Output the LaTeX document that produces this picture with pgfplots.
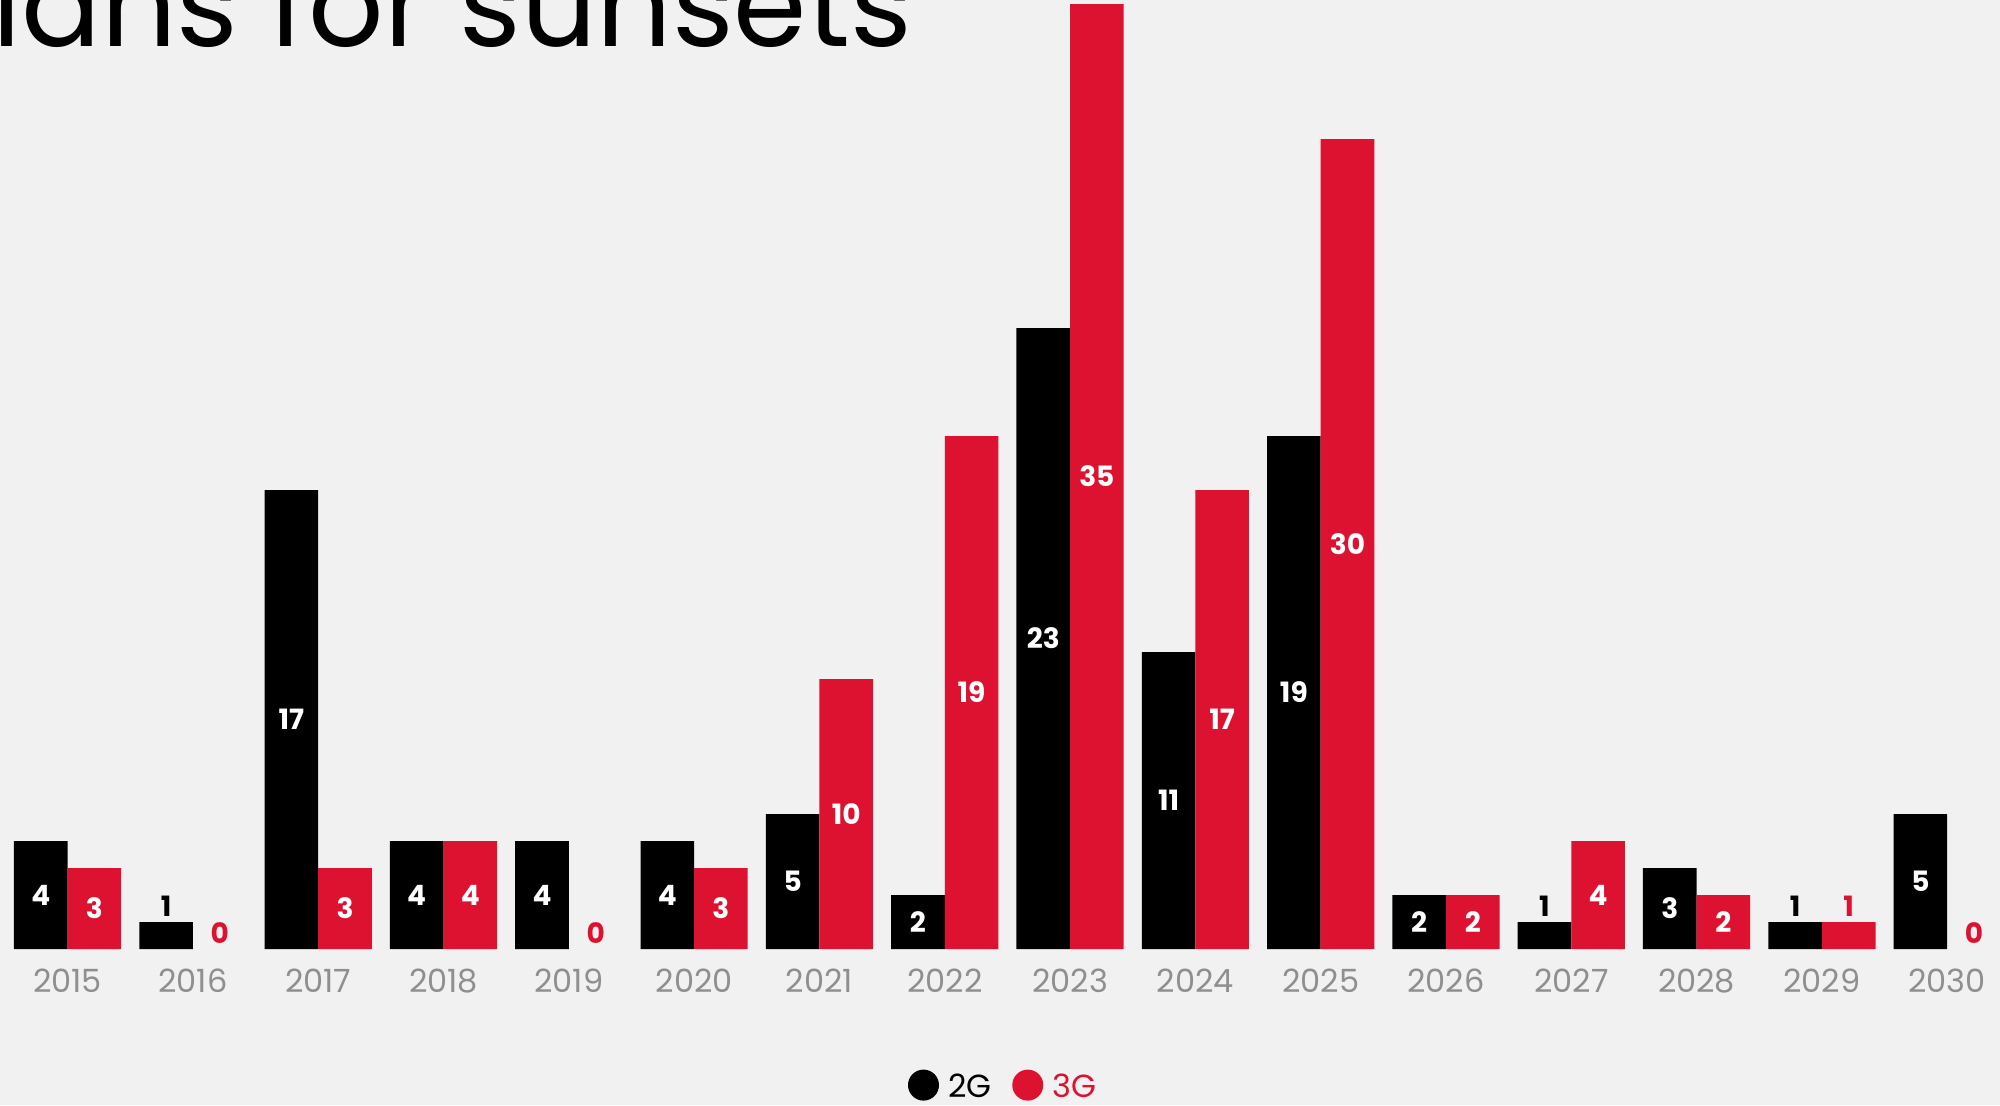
\documentclass[border=0pt]{standalone}
\usepackage{fontspec}
\setmainfont{Poppins}
\usepackage{pgfplots}
\usepackage{pgfplotstable}
\pgfplotsset{compat=1.18}
\definecolor{rg}{HTML}{DC1230}
\definecolor{bg}{HTML}{F1F1F1}
\definecolor{tickgray}{HTML}{8F8F8F}
\pgfplotstableread{
x g2 g3
0 4 3
1 1 0
2 17 3
3 4 4
4 4 0
5 4 3
6 5 10
7 2 19
8 23 35
9 11 17
10 19 30
11 2 2
12 1 4
13 3 2
14 1 1
15 5 0
}\datatable
\begin{document}
\begin{tikzpicture}
\fill[bg] (0,-78pt) rectangle (1000pt,474.5pt);
\begin{axis}[
  at={(0,0)}, anchor=south west,
  scale only axis, width=1000pt, height=474.5pt,
  xmin=-0.5395, xmax=15.4217, ymin=0, ymax=35.15,
  /pgf/number format/assume math mode=true,
  axis line style={draw=none},
  major tick length=0pt,
  ytick=\empty,
  xtick={0,...,15},
  xticklabels={2015,2016,2017,2018,2019,2020,2021,2022,2023,2024,2025,2026,2027,2028,2029,2030},
  xticklabel style={anchor=center, yshift=-16pt, text=tickgray, font=\fontsize{16}{16}\selectfont},
  clip=false,
  legend style={at={(0.502,-0.1454)}, anchor=center, draw=none, fill=none,
    legend columns=2, font=\fontsize{16}{16}\selectfont,
    /tikz/every odd column/.append style={column sep=2.5pt},
    /tikz/every even column/.append style={column sep=8.5pt}},
  legend image code/.code={\fill[#1] (0pt,0.35em-2.5pt) circle (7.75pt);},
]
\addplot[ybar, bar width=0.4278, bar shift=-0.2139, fill=black, draw=none] table[x=x, y expr={\thisrow{g2}>0 ? \thisrow{g2} : nan}] \datatable;
\addlegendentry{2G}
\addplot[ybar, bar width=0.4278, bar shift=0.2139, fill=rg, draw=none] table[x=x, y expr={\thisrow{g3}>0 ? \thisrow{g3} : nan}] \datatable;
\addlegendentry{\textcolor{rg}{3G}}
% labels inside bars
\addplot[forget plot, draw=none, mark=none, nodes near coords, point meta=explicit,
  every node near coord/.style={anchor=center, inner sep=0pt, text=white, font=\bfseries\fontsize{14}{14}\selectfont}]
  table[x expr=\thisrow{x}-0.2139, y expr={\thisrow{g2}>1.5 ? \thisrow{g2}/2 : nan}, meta=g2] \datatable;
\addplot[forget plot, draw=none, mark=none, nodes near coords, point meta=explicit,
  every node near coord/.style={anchor=center, inner sep=0pt, text=white, font=\bfseries\fontsize{14}{14}\selectfont}]
  table[x expr=\thisrow{x}+0.2139, y expr={\thisrow{g3}>1.5 ? \thisrow{g3}/2 : nan}, meta=g3] \datatable;
% labels above small bars
\addplot[forget plot, draw=none, mark=none, nodes near coords, point meta=explicit,
  every node near coord/.style={anchor=south, inner sep=0pt, yshift=2.5pt, text=black, font=\bfseries\fontsize{14}{14}\selectfont}]
  table[x expr=\thisrow{x}-0.2139, y expr={\thisrow{g2}<1.5 ? \thisrow{g2} : nan}, meta=g2] \datatable;
\addplot[forget plot, draw=none, mark=none, nodes near coords, point meta=explicit,
  every node near coord/.style={anchor=south, inner sep=0pt, yshift=2.5pt, text=rg, font=\bfseries\fontsize{14}{14}\selectfont}]
  table[x expr=\thisrow{x}+0.2139, y expr={\thisrow{g3}<1.5 ? \thisrow{g3} : nan}, meta=g3] \datatable;
\end{axis}
\node[anchor=base east, inner sep=0pt, font=\fontsize{59}{59}\selectfont] at (456pt,451pt) {plans for sunsets};
\pgfresetboundingbox
\useasboundingbox (0,-78pt) rectangle (1000pt,474.5pt);
\end{tikzpicture}
\end{document}
